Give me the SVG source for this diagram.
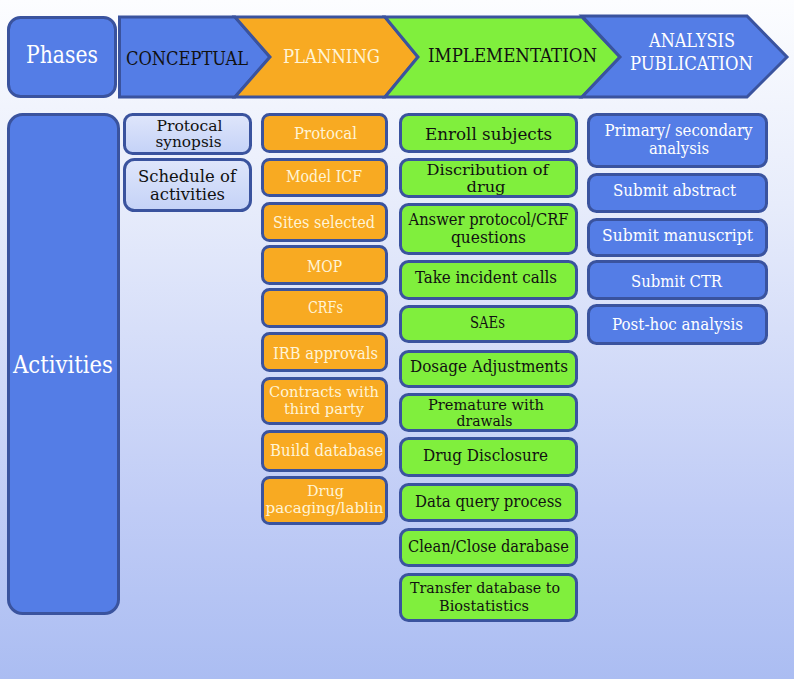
<svg xmlns="http://www.w3.org/2000/svg" width="794" height="679" viewBox="0 0 794 679">
<defs>
<linearGradient id="bg" x1="0" y1="0" x2="0" y2="1">
<stop offset="0" stop-color="#fcfdff"/>
<stop offset="0.3" stop-color="#e7ecfb"/>
<stop offset="0.75" stop-color="#c0ccf6"/>
<stop offset="1" stop-color="#abbdf2"/>
</linearGradient>
<linearGradient id="lt" x1="0" y1="0" x2="0" y2="1">
<stop offset="0" stop-color="#dfe6fb"/>
<stop offset="1" stop-color="#c4d2f7"/>
</linearGradient>
<style>
.bx{stroke:#3a539e;stroke-width:3}
.blue{fill:#547de6}
.org{fill:#f8aa22}
.grn{fill:#80ef3d}
.lt{fill:url(#lt)}
.t{font-family:"DejaVu Serif Condensed","DejaVu Serif",serif;font-size:17px;text-anchor:middle}
.h{font-size:19px}
.big{font-size:24px}
.s14{font-size:14px}
.s15{font-size:15px}
.s16{font-size:16px}
.dk{fill:#111}
.wh{fill:#fff}
.cr{fill:#fff4d6}
</style>
</defs>
<rect x="0" y="0" width="794" height="679" fill="url(#bg)"/>

<g id="phases">
<rect class="bx blue" x="8.5" y="17.5" width="107" height="79" rx="12"/>
<text class="t big wh" x="62" y="63" textLength="72" lengthAdjust="spacingAndGlyphs">Phases</text>
</g>

<g id="phase-conceptual">
<polygon class="bx blue" points="119.5,17 235,17 270,57 235,97 119.5,97"/>
<text class="t h dk" x="187" y="65" textLength="122" lengthAdjust="spacingAndGlyphs">CONCEPTUAL</text>
</g>
<g id="phase-planning">
<polygon class="bx org" points="235,17 385,17 418,57 385,97 235,97 270,57"/>
<text class="t h cr" x="331.5" y="63" textLength="97" lengthAdjust="spacingAndGlyphs">PLANNING</text>
</g>
<g id="phase-implementation">
<polygon class="bx grn" points="385,17 582,17 620,57 582,97 385,97 418,57"/>
<text class="t h dk" x="512.5" y="62" textLength="169" lengthAdjust="spacingAndGlyphs">IMPLEMENTATION</text>
</g>
<g id="phase-analysis">
<polygon class="bx blue" points="582,16 747,16 787,57 747,97 582,97 620,57"/>
<text class="t h wh" x="692" y="47" textLength="86" lengthAdjust="spacingAndGlyphs">ANALYSIS</text>
<text class="t h wh" x="691.5" y="70" textLength="123" lengthAdjust="spacingAndGlyphs">PUBLICATION</text>
</g>

<g id="activities">
<rect class="bx blue" x="8.5" y="114.5" width="110" height="499" rx="14"/>
<text class="t big wh" x="63" y="373" textLength="100" lengthAdjust="spacingAndGlyphs">Activities</text>
</g>

<!-- Conceptual column -->
<g id="c1">
<rect class="bx lt" x="124.5" y="114.5" width="126" height="39" rx="8"/>
<text class="t s14 dk" x="189.5" y="130.5" textLength="66" lengthAdjust="spacingAndGlyphs">Protocal</text>
<text class="t s14 dk" x="188.5" y="147" textLength="66" lengthAdjust="spacingAndGlyphs">synopsis</text>
</g>
<g id="c2">
<rect class="bx lt" x="124.5" y="159.5" width="126" height="51" rx="10"/>
<text class="t s16 dk" x="187" y="182" textLength="98" lengthAdjust="spacingAndGlyphs">Schedule of</text>
<text class="t s16 dk" x="187.5" y="200" textLength="75" lengthAdjust="spacingAndGlyphs">activities</text>
</g>

<!-- Planning column -->
<g id="p1"><rect class="bx org" x="262.5" y="114.5" width="124" height="37" rx="7"/>
<text class="t cr" x="325.5" y="139" textLength="63" lengthAdjust="spacingAndGlyphs">Protocal</text></g>
<g id="p2"><rect class="bx org" x="262.5" y="159.5" width="124" height="36" rx="7"/>
<text class="t cr" x="324" y="182" textLength="76" lengthAdjust="spacingAndGlyphs">Model ICF</text></g>
<g id="p3"><rect class="bx org" x="262.5" y="203.5" width="124" height="37" rx="7"/>
<text class="t cr" x="324" y="228" textLength="102" lengthAdjust="spacingAndGlyphs">Sites selected</text></g>
<g id="p4"><rect class="bx org" x="262.5" y="246.5" width="124" height="37" rx="7"/>
<text class="t cr" x="324.5" y="272" textLength="35" lengthAdjust="spacingAndGlyphs">MOP</text></g>
<g id="p5"><rect class="bx org" x="262.5" y="289.5" width="124" height="37" rx="7"/>
<text class="t cr" x="325.5" y="313" textLength="35" lengthAdjust="spacingAndGlyphs">CRFs</text></g>
<g id="p6"><rect class="bx org" x="262.5" y="333.5" width="124" height="37" rx="7"/>
<text class="t cr" x="325.5" y="359" textLength="105" lengthAdjust="spacingAndGlyphs">IRB approvals</text></g>
<g id="p7"><rect class="bx org" x="262.5" y="378.5" width="124" height="45" rx="7"/>
<text class="t s15 cr" x="324" y="397" textLength="110" lengthAdjust="spacingAndGlyphs">Contracts with</text>
<text class="t s15 cr" x="324" y="414" textLength="80" lengthAdjust="spacingAndGlyphs">third party</text></g>
<g id="p8"><rect class="bx org" x="262.5" y="431.5" width="124" height="39" rx="7"/>
<text class="t cr" x="326.5" y="456" textLength="113" lengthAdjust="spacingAndGlyphs">Build database</text></g>
<g id="p9"><rect class="bx org" x="262.5" y="477.5" width="124" height="46" rx="7"/>
<text class="t s15 cr" x="325.5" y="496" textLength="37" lengthAdjust="spacingAndGlyphs">Drug</text>
<text class="t s15 cr" x="324.5" y="513" textLength="118" lengthAdjust="spacingAndGlyphs">pacaging/lablin</text></g>

<!-- Implementation column -->
<g id="i1"><rect class="bx grn" x="400.5" y="114.5" width="176" height="37" rx="8"/>
<text class="t dk" x="488.5" y="140" textLength="127" lengthAdjust="spacingAndGlyphs">Enroll subjects</text></g>
<g id="i2"><rect class="bx grn" x="400.5" y="159.5" width="176" height="37" rx="8"/>
<text class="t s14 dk" x="487.5" y="175" textLength="122" lengthAdjust="spacingAndGlyphs">Discribution of</text>
<text class="t s14 dk" x="486" y="191.5" textLength="39" lengthAdjust="spacingAndGlyphs">drug</text></g>
<g id="i3"><rect class="bx grn" x="400.5" y="204.5" width="176" height="49" rx="8"/>
<text class="t s16 dk" x="488.5" y="225" textLength="160" lengthAdjust="spacingAndGlyphs">Answer protocol/CRF</text>
<text class="t s16 dk" x="488.5" y="243" textLength="75" lengthAdjust="spacingAndGlyphs">questions</text></g>
<g id="i4"><rect class="bx grn" x="400.5" y="261.5" width="176" height="37" rx="8"/>
<text class="t dk" x="486" y="283" textLength="142" lengthAdjust="spacingAndGlyphs">Take incident calls</text></g>
<g id="i5"><rect class="bx grn" x="400.5" y="306.5" width="176" height="35" rx="8"/>
<text class="t dk" x="487.5" y="328" textLength="35" lengthAdjust="spacingAndGlyphs">SAEs</text></g>
<g id="i6"><rect class="bx grn" x="400.5" y="351.5" width="176" height="35" rx="8"/>
<text class="t dk" x="489" y="372" textLength="158" lengthAdjust="spacingAndGlyphs">Dosage Adjustments</text></g>
<g id="i7"><rect class="bx grn" x="400.5" y="394.5" width="176" height="36" rx="8"/>
<text class="t s14 dk" x="486" y="409.5" textLength="116" lengthAdjust="spacingAndGlyphs">Premature with</text>
<text class="t s14 dk" x="484.5" y="426" textLength="56" lengthAdjust="spacingAndGlyphs">drawals</text></g>
<g id="i8"><rect class="bx grn" x="400.5" y="438.5" width="176" height="37" rx="8"/>
<text class="t dk" x="485.5" y="461" textLength="125" lengthAdjust="spacingAndGlyphs">Drug Disclosure</text></g>
<g id="i9"><rect class="bx grn" x="400.5" y="484.5" width="176" height="36" rx="8"/>
<text class="t dk" x="488.5" y="507" textLength="147" lengthAdjust="spacingAndGlyphs">Data query process</text></g>
<g id="i10"><rect class="bx grn" x="400.5" y="529.5" width="176" height="36" rx="8"/>
<text class="t dk" x="488.5" y="552" textLength="161" lengthAdjust="spacingAndGlyphs">Clean/Close darabase</text></g>
<g id="i11"><rect class="bx grn" x="400.5" y="574.5" width="176" height="46" rx="8"/>
<text class="t s15 dk" x="485" y="593" textLength="150" lengthAdjust="spacingAndGlyphs">Transfer database to</text>
<text class="t s15 dk" x="484" y="610.5" textLength="90" lengthAdjust="spacingAndGlyphs">Biostatistics</text></g>

<!-- Analysis column -->
<g id="a1"><rect class="bx blue" x="588.5" y="114.5" width="178" height="52" rx="8"/>
<text class="t s16 wh" x="678.5" y="136" textLength="148" lengthAdjust="spacingAndGlyphs">Primary/ secondary</text>
<text class="t s16 wh" x="679" y="154" textLength="60" lengthAdjust="spacingAndGlyphs">analysis</text></g>
<g id="a2"><rect class="bx blue" x="588.5" y="174.5" width="178" height="37" rx="8"/>
<text class="t wh" x="674.5" y="196" textLength="123" lengthAdjust="spacingAndGlyphs">Submit abstract</text></g>
<g id="a3"><rect class="bx blue" x="588.5" y="219.5" width="178" height="36" rx="8"/>
<text class="t wh" x="677.5" y="241" textLength="151" lengthAdjust="spacingAndGlyphs">Submit manuscript</text></g>
<g id="a4"><rect class="bx blue" x="588.5" y="261.5" width="178" height="37" rx="8"/>
<text class="t wh" x="676.5" y="287" textLength="91" lengthAdjust="spacingAndGlyphs">Submit CTR</text></g>
<g id="a5"><rect class="bx blue" x="588.5" y="305.5" width="178" height="38" rx="8"/>
<text class="t wh" x="677.5" y="330" textLength="131" lengthAdjust="spacingAndGlyphs">Post-hoc analysis</text></g>

<g id="connectors"/>
</svg>
